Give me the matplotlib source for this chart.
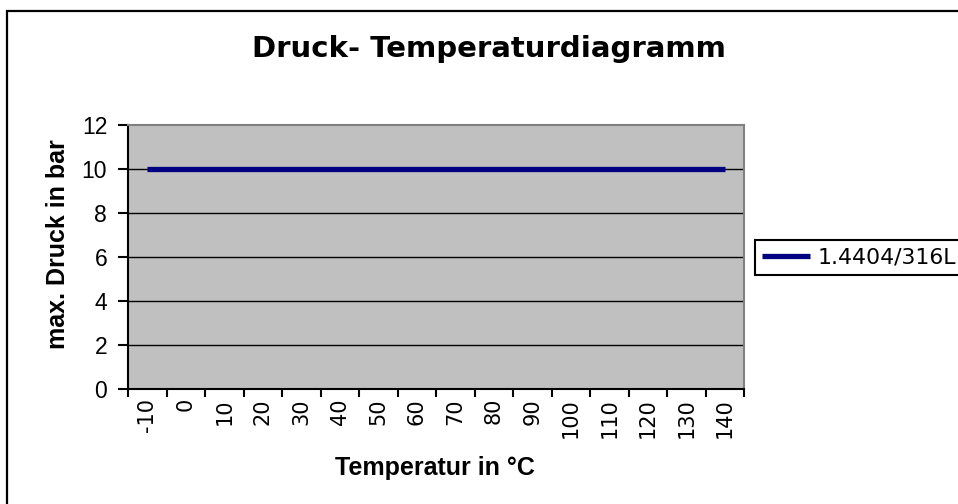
import numpy as np
import matplotlib.pyplot as plt
from matplotlib.patches import Rectangle
from matplotlib.ticker import FixedLocator

# Daten
temperaturen = ['-10', '0', '10', '20', '30', '40', '50', '60', '70',
                '80', '90', '100', '110', '120', '130', '140']
druck = [10, 10, 10, 10, 10, 10, 10, 10, 10, 10, 10, 10, 10, 10, 10, 10]
serie = '1.4404/316L'
y_ticks = [0, 2, 4, 6, 8, 10, 12]

fig = plt.figure(figsize=(9.58, 5.04), dpi=100)
fig.patch.set_facecolor('white')

# Rahmen des Diagrammbereichs (rechts/unten abgeschnitten)
fig.patches.append(Rectangle((7 / 958, -0.1), 1.2, 1 - 11 / 504 + 0.1,
                             transform=fig.transFigure, fill=False,
                             edgecolor='black', linewidth=1.6, zorder=0))

ax = fig.add_axes([128 / 958, 115 / 504, 616 / 958, 264 / 504])
ax.set_facecolor('#C0C0C0')

x = np.arange(len(temperaturen))
ax.plot(x, druck, color='#000080', linewidth=3.8, label=serie, zorder=3,
        solid_capstyle='butt')

ax.set_xlim(-0.5, len(temperaturen) - 0.5)
ax.set_ylim(0, 12)
ax.set_yticks(y_ticks)
ax.set_yticklabels([str(v) for v in y_ticks], family='Liberation Sans', fontsize=16.5)
ax.tick_params(axis='y', direction='out', length=7, width=1.5, pad=8)

ax.set_xticks(x)
ax.set_xticklabels(temperaturen, rotation=90, family='DejaVu Sans', fontsize=15)
ax.tick_params(axis='x', which='major', length=0, pad=6.5)
ax.xaxis.set_minor_locator(FixedLocator(np.arange(-0.5, len(temperaturen), 1)))
ax.tick_params(axis='x', which='minor', direction='out', length=5.5, width=1.5)

# Gitternetzlinien
for yv in y_ticks[1:-1]:
    ax.axhline(yv, color='black', linewidth=1, zorder=1)

ax.spines['left'].set_linewidth(1.5)
ax.spines['bottom'].set_linewidth(1.5)
ax.spines['top'].set_color('#808080')
ax.spines['right'].set_color('#808080')
ax.spines['top'].set_linewidth(1.5)
ax.spines['right'].set_linewidth(1.5)

fig.text(489 / 958, 1 - 57 / 504, 'Druck- Temperaturdiagramm', ha='center', va='baseline',
         family='DejaVu Sans', fontweight='bold', fontsize=21)
fig.text(435 / 958, 1 - 475 / 504, 'Temperatur in °C', ha='center', va='baseline',
         family='Liberation Sans', fontweight='bold', fontsize=18)
fig.text(58 / 958, 1 - 244 / 504, 'max. Druck in bar', ha='center', va='center',
         rotation=90, family='Liberation Sans', fontweight='bold', fontsize=18)

# Legende ragt rechts über den Bildrand hinaus
leg = fig.legend(loc='center left', bbox_to_anchor=(755 / 958, 1 - 257.5 / 504),
                 borderaxespad=0, frameon=True, fancybox=False, borderpad=0.32,
                 handlelength=2.2, handletextpad=0.33,
                 prop={'family': 'DejaVu Sans', 'size': 15.8})
leg.get_frame().set_edgecolor('black')
leg.get_frame().set_linewidth(1.5)
leg.get_frame().set_alpha(None)

fig.savefig('out.png', dpi=100)
